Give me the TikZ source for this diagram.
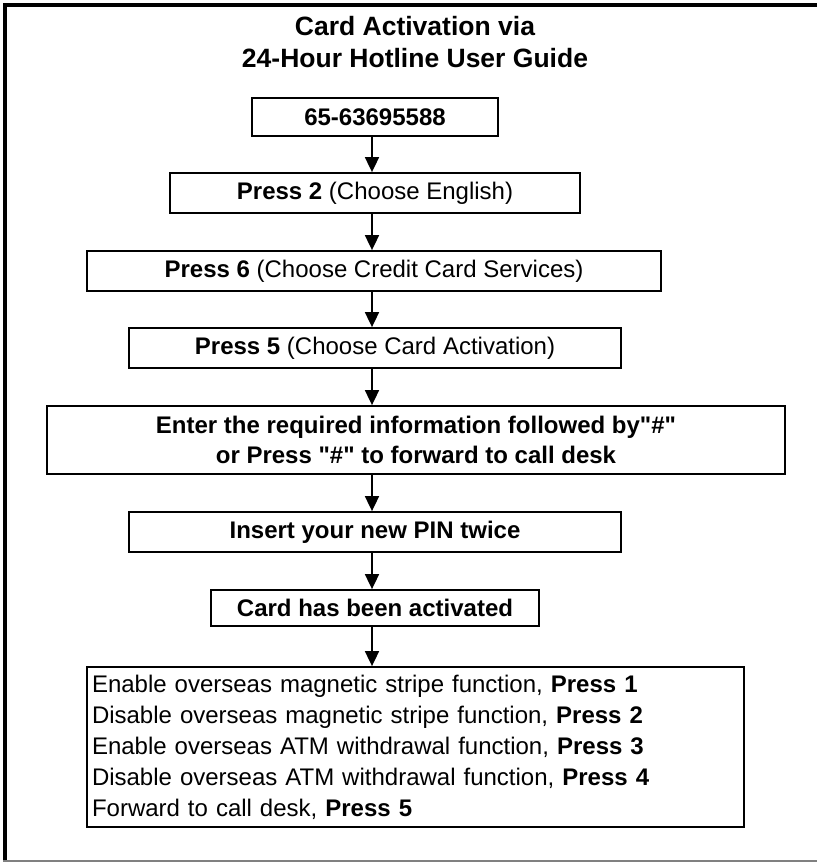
\documentclass[tikz,border=0pt]{standalone}
\usepackage{fontspec}
\setmainfont{Liberation Sans}
\usetikzlibrary{arrows.meta}

\begin{document}
\begin{tikzpicture}[x=1pt, y=-1pt,
	kasten/.style={draw, line width=1.8pt, inner sep=0pt, font=\fontsize{24}{30}\selectfont, align=center},
	pfeil/.style={line width=1.8pt, -{Triangle[width=14pt,length=15pt]}}]
	\useasboundingbox (0,0) rectangle (817,863); % Rand um Grafik
	
	% Rahmen
	\draw[line width=4pt] (3,5) -- (817,5);
	\draw[line width=4pt] (5,3) -- (5,862);
	\draw[gray, line width=1.5pt] (3,861) -- (817,861);
	
	\node[font=\bfseries\fontsize{26.5}{32}\selectfont, align=center] (titel) at (415,42) {Card Activation via\\24-Hour Hotline User Guide};
	
	\node[kasten, minimum width=246, minimum height=38] (nummer) at (375,117) {\textbf{65-63695588}};
	\node[kasten, minimum width=410, minimum height=40] (sprache) at (375,193) {\textbf{Press 2} (Choose English)};
	\node[kasten, minimum width=574, minimum height=40] (dienst) at (374,271) {\textbf{Press 6} (Choose Credit Card Services)};
	\node[kasten, minimum width=492, minimum height=40] (aktiv) at (375,348) {\textbf{Press 5} (Choose Card Activation)};
	\node[kasten, minimum width=738, minimum height=68, font=\bfseries\fontsize{24}{30}\selectfont] (daten) at (416,440) {Enter the required information followed by\textquotedbl\#\textquotedbl\\ or Press \textquotedbl\#\textquotedbl{} to forward to call desk};
	\node[kasten, minimum width=492, minimum height=40] (pin) at (375,532) {\textbf{Insert your new PIN twice}};
	\node[kasten, minimum width=328, minimum height=36] (fertig) at (375,608) {\textbf{Card has been activated}};
	\node[kasten, text width=647, minimum height=160, inner xsep=5pt, align=left, font=\fontsize{24}{31}\selectfont] (optionen) at (415.5,747) {Enable overseas magnetic stripe function, \textbf{Press 1}\\Disable overseas magnetic stripe function, \textbf{Press 2}\\Enable overseas ATM withdrawal function, \textbf{Press 3}\\Disable overseas ATM withdrawal function, \textbf{Press 4}\\Forward to call desk, \textbf{Press 5}};
	
	\coordinate (achse) at (372,0); % Pfeile senkrecht
	\draw[pfeil] (nummer.south -| achse) -- (sprache.north -| achse);
	\draw[pfeil] (sprache.south -| achse) -- (dienst.north -| achse);
	\draw[pfeil] (dienst.south -| achse) -- (aktiv.north -| achse);
	\draw[pfeil] (aktiv.south -| achse) -- (daten.north -| achse);
	\draw[pfeil] (daten.south -| achse) -- (pin.north -| achse);
	\draw[pfeil] (pin.south -| achse) -- (fertig.north -| achse);
	\draw[pfeil] (fertig.south -| achse) -- (optionen.north -| achse);
\end{tikzpicture}
\end{document}
